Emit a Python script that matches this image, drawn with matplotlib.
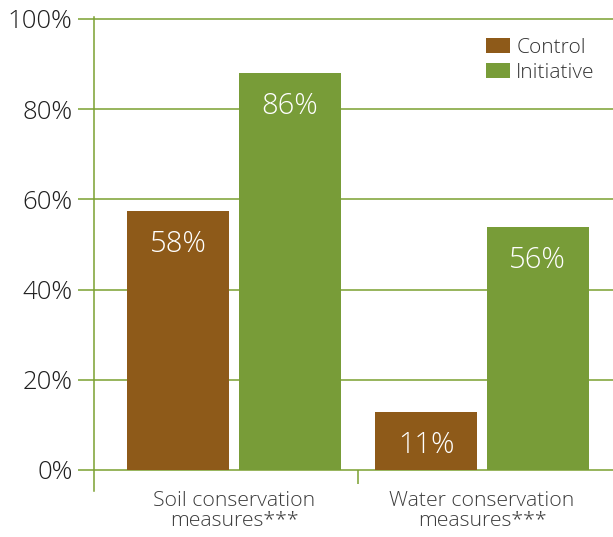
import numpy as np
import matplotlib
matplotlib.use("Agg")
import matplotlib.pyplot as plt

plt.rcParams['font.family'] = ['Open Sans', 'DejaVu Sans']
plt.rcParams['font.weight'] = 'light'

# data (bar heights as drawn, and the printed labels)
categories = ["Soil conservation\nmeasures***", "Water conservation\nmeasures***"]
control = [57.4, 12.9]
initiative = [88.0, 53.9]
control_labels = ["58%", "11%"]
initiative_labels = ["86%", "56%"]
yticks = [0, 20, 40, 60, 80, 100]

brown = "#8E5A19"
green = "#789C38"
line_green = "#7AA030"

fig = plt.figure(figsize=(6.13, 5.37), dpi=100)
ax = fig.add_axes([94/613, 46/537, 1 - 94/613, (491-17)/537])

x = np.arange(len(categories))
w = 0.41
off = 0.225
b1 = ax.bar(x - off, control, width=w, color=brown, label="Control", zorder=3)
b2 = ax.bar(x + off, initiative, width=w, color=green, label="Initiative", zorder=3)

for bars, labels in [(b1, control_labels), (b2, initiative_labels)]:
    for rect, lab in zip(bars, labels):
        ax.annotate(lab, (rect.get_x() + rect.get_width()/2, rect.get_height()),
                    xytext=(0, -24), textcoords="offset points", ha="center", va="center",
                    color="white", fontsize=21, zorder=4)

ax.set_xlim(-0.565, 1.528)
ax.set_ylim(-4.66, 100.4)
ax.set_yticks(yticks)
ax.set_yticklabels([f"{t}%" for t in yticks], fontsize=18.5, color="#1e1e1e")
ax.yaxis.grid(True, color=line_green, linewidth=1.1, zorder=0)
ax.tick_params(axis="y", length=11.5, width=1.1, color=line_green, pad=4)

ax.spines["bottom"].set_position(("data", 0))
ax.set_xticks(x)
ax.set_xticklabels(categories, fontsize=15.3, color="#3c3c3c", linespacing=1.0)
ax.tick_params(axis="x", which="major", length=0, pad=15)
ax.set_xticks([0.5], minor=True)
ax.tick_params(axis="x", which="minor", length=10, width=1.1, color=line_green)

for s in ["top", "right", "bottom"]:
    ax.spines[s].set_visible(False)
ax.spines["left"].set_color(line_green)
ax.spines["left"].set_linewidth(1.1)

leg = fig.legend(loc="upper left", bbox_to_anchor=(486/613, 1 - 38/537), frameon=False,
                 fontsize=15, handlelength=1.15, handleheight=0.7, handletextpad=0.3,
                 labelspacing=0.22, borderpad=0, borderaxespad=0)
for t in leg.get_texts():
    t.set_color("#333333")

fig.savefig("out.png", dpi=100)
